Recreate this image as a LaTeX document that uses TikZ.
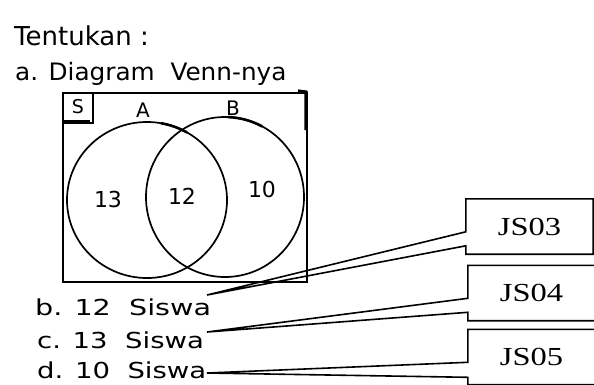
\documentclass[tikz,border=0pt]{standalone}
\usepackage{fontspec}
\usepackage{graphicx}
\setmainfont{Liberation Serif}
\newfontfamily\hand{DejaVu Sans}
\usetikzlibrary{calc}
\begin{document}
\begin{tikzpicture}[x=1pt,y=-1pt,
  hw/.style={anchor=base west,inner sep=0pt,font=\hand},
  venn/.style={line width=1.7pt},
  frame/.style={line width=2pt},
  callout/.style={line width=1.6pt,line join=miter},
  jsbox/.style={draw=none,minimum width=127pt,minimum height=55pt,inner sep=0pt,
    font=\fontsize{26}{26}\selectfont}]
\useasboundingbox[fill=white] (0,0) rectangle (594,384);

% handwritten headings
\node[hw,font=\hand\fontsize{26}{26}\selectfont] (tent) at (14,45) {Tentukan :};
\node[hw,font=\hand\fontsize{24}{24}\selectfont] (parta) at (15,80) {\scalebox{1.03}[1]{a. Diagram\ \ Venn-nya}};

% Venn diagram
\draw[frame] (63,93) rectangle (307,282);
\draw[line width=3.2pt] (298,91) -- (306,92) -- (306,130);
\draw[line width=1.6pt] (63,123) -- (93,123) -- (93,93);
\draw[line width=3.2pt] (63,122) -- (90,122);
\node[font=\hand\fontsize{19}{19}\selectfont,inner sep=0pt] (s) at (78,107) {S};
\draw[venn] (147,200) ellipse [x radius=80, y radius=78];
\draw[venn] (225,197) ellipse [x radius=79, y radius=80];
\draw[line width=2.6pt] (147,200) ++(-80:80 and 78) arc[start angle=-80,end angle=-60,x radius=80,y radius=78];
\draw[line width=2.6pt] (225,197) ++(-88:79 and 80) arc[start angle=-88,end angle=-62,x radius=79,y radius=80];
\node[font=\hand\fontsize{20}{20}\selectfont,inner sep=0pt] (la) at (143,110) {A};
\node[font=\hand\fontsize{20}{20}\selectfont,inner sep=0pt] (lb) at (233,108) {B};
\node[font=\hand\fontsize{22}{22}\selectfont,inner sep=0pt] (n13) at (108,199) {13};
\node[font=\hand\fontsize{22}{22}\selectfont,inner sep=0pt] (n12) at (182,196) {12};
\node[font=\hand\fontsize{22}{22}\selectfont,inner sep=0pt] (n10) at (262,189) {10};

% answers
\node[hw,font=\hand\fontsize{22}{22}\selectfont] (ansb) at (35,315) {\scalebox{1.3}[1]{b. 12\ \ Siswa}};
\node[hw,font=\hand\fontsize{22}{22}\selectfont] (ansc) at (37,348) {\scalebox{1.25}[1]{c. 13\ \ Siswa}};
\node[hw,font=\hand\fontsize{22}{22}\selectfont] (ansd) at (37,378) {\scalebox{1.25}[1]{d. 10\ \ Siswa}};

% callout boxes
\coordinate (t3) at (207,295);
\coordinate (t4) at (207,332);
\coordinate (t5) at (207,373);
\node[jsbox] (js3) at (529.5,226.5) {\scalebox{1.25}[1]{JS03}};
\node[jsbox] (js4) at (531.5,293) {\scalebox{1.25}[1]{JS04}};
\node[jsbox] (js5) at (531.5,357) {\scalebox{1.25}[1]{JS05}};
\foreach \b/\t/\u/\l in {js3/t3/33/47, js4/t4/33/47, js5/t5/33/48}{
  \draw[callout] (\b.north west) -- (\b.north east) -- (\b.south east) -- (\b.south west)
    -- ($(\b.north west)+(0,\l)$) -- (\t) -- ($(\b.north west)+(0,\u)$) -- cycle;
}
\end{tikzpicture}
\end{document}
